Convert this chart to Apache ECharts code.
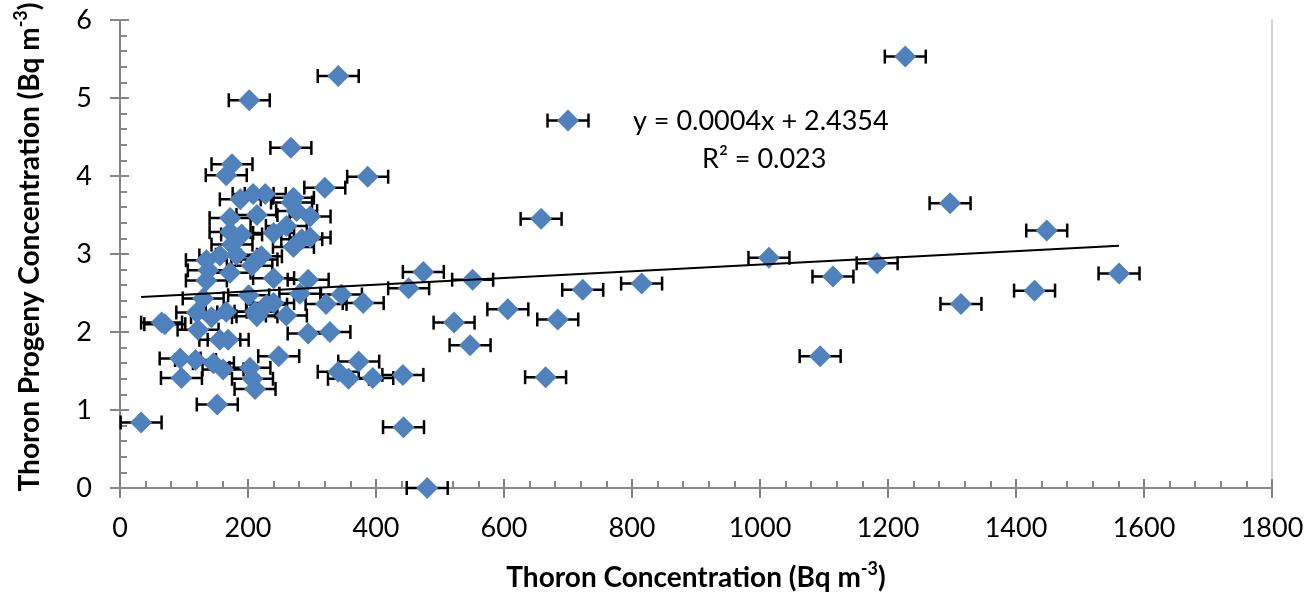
<!DOCTYPE html>
<html>
<head>
<meta charset="utf-8">
<script src="https://cdn.jsdelivr.net/npm/echarts@6/dist/echarts.min.js"></script>
<style>
  html, body { margin: 0; padding: 0; background: #ffffff; }
  #chart { width: 1309px; height: 597px; }
</style>
</head>
<body>
<div id="chart"></div>
<script>
// Thoron concentration (Bq m-3) for each sampled dwelling
const thoron = [
  33, 152, 211, 96, 94, 118, 146, 161, 203, 207,
  248, 341, 357, 373, 395, 442, 443, 480, 65, 70,
  122, 156, 169, 294, 328, 120, 143, 166, 211, 229,
  240, 214, 260, 201, 130, 281, 346, 322, 380, 451,
  474, 240, 294, 135, 138, 172, 206, 221, 214, 135,
  156, 182, 175, 172, 190, 240, 271, 284, 297, 260,
  172, 214, 297, 268, 276, 271, 188, 208, 227, 320,
  166, 175, 267, 387, 202, 341, 551, 522, 547, 606,
  684, 665, 723, 815, 658, 700, 1014, 1094, 1114, 1183,
  1227, 1297, 1314, 1429, 1448, 1561
];
// Thoron progeny concentration (Bq m-3) for the same dwellings
const progeny = [
  0.84, 1.07, 1.27, 1.41, 1.66, 1.64, 1.60, 1.52, 1.54, 1.40,
  1.69, 1.49, 1.40, 1.62, 1.41, 1.45, 0.78, 0.00, 2.12, 2.10,
  2.03, 1.90, 1.90, 1.98, 2.00, 2.25, 2.19, 2.26, 2.26, 2.35,
  2.37, 2.20, 2.21, 2.47, 2.43, 2.49, 2.48, 2.36, 2.37, 2.56,
  2.77, 2.69, 2.67, 2.66, 2.79, 2.76, 2.85, 2.97, 2.93, 2.92,
  2.98, 2.99, 3.12, 3.28, 3.25, 3.27, 3.09, 3.19, 3.21, 3.36,
  3.46, 3.50, 3.48, 3.66, 3.55, 3.72, 3.70, 3.77, 3.77, 3.85,
  4.01, 4.15, 4.36, 3.99, 4.97, 5.28, 2.67, 2.12, 1.83, 2.29,
  2.16, 1.42, 2.54, 2.62, 3.45, 4.71, 2.95, 1.69, 2.71, 2.88,
  5.53, 3.65, 2.36, 2.53, 3.30, 2.75
];
// Horizontal uncertainty on the thoron measurement (Bq m-3)
const thoronErr = 32;

// Linear trend fitted through the points
const trendSlope = 0.00043;
const trendIntercept = 2.4354;
const rSquared = 0.023;

// Axis ranges and tick spacing
const xRange = [0, 1800];
const xStep = 200;
const yRange = [0, 6];
const yStep = 1;

const FONT = 'Lato';
const AXIS_GREY = '#868686';
const MARKER_BLUE = '#4F81BD';

const points = thoron.map((x, i) => [x, progeny[i], thoronErr]);
const xMin = Math.min(...thoron);
const xMax = Math.max(...thoron);
const trend = [
  [xMin, trendIntercept + trendSlope * xMin],
  [xMax, trendIntercept + trendSlope * xMax]
];

const nameRich = {
  b: { fontFamily: FONT, fontSize: 28, fontWeight: 'bold', color: '#000', lineHeight: 32, verticalAlign: 'bottom' },
  s: { fontFamily: FONT, fontSize: 18, fontWeight: 'bold', color: '#000', lineHeight: 18, verticalAlign: 'top' }
};

const tickLabel = { fontFamily: FONT, fontSize: 27, color: '#000', formatter: v => String(v) };
const axisLine = { show: true, lineStyle: { color: AXIS_GREY, width: 2 } };

const chart = echarts.init(document.getElementById('chart'), null, { renderer: 'canvas' });

chart.setOption({
  animation: false,
  backgroundColor: '#ffffff',
  grid: { left: 120, right: 37, top: 18, bottom: 108, containLabel: false },
  xAxis: [
    {
      type: 'value', min: xRange[0], max: xRange[1], interval: xStep,
      axisLine: axisLine,
      axisTick: { show: true, length: 10, lineStyle: { color: AXIS_GREY, width: 2 } },
      splitLine: { show: false },
      axisLabel: Object.assign({ margin: 27 }, tickLabel),
      name: '{b|Thoron Concentration (Bq m}{s|-3}{b|)}',
      nameLocation: 'middle', nameGap: 72,
      nameTextStyle: { rich: nameRich }
    },
    {
      type: 'value', min: xRange[0], max: xRange[1], interval: xStep, position: 'bottom',
      axisLine: { show: false },
      axisTick: { show: true, inside: true, length: 9, lineStyle: { color: AXIS_GREY, width: 2 } },
      minorTick: { show: true, splitNumber: 5, length: 7, lineStyle: { color: AXIS_GREY, width: 2 } },
      splitLine: { show: false },
      axisLabel: { show: false }
    }
  ],
  yAxis: [
    {
      type: 'value', min: yRange[0], max: yRange[1], interval: yStep,
      axisLine: axisLine,
      axisTick: { show: true, length: 10, lineStyle: { color: AXIS_GREY, width: 2 } },
      splitLine: { show: false },
      axisLabel: Object.assign({ margin: 28 }, tickLabel),
      name: '{b|Thoron Progeny Concentration (Bq m}{s|-3}{b|)}',
      nameLocation: 'middle', nameGap: 76, nameRotate: 90,
      nameTextStyle: { rich: nameRich, padding: [0, 0, 0, 14] }
    },
    {
      type: 'value', min: yRange[0], max: yRange[1], interval: yStep, position: 'left',
      axisLine: { show: false },
      axisTick: { show: true, inside: true, length: 9, lineStyle: { color: AXIS_GREY, width: 2 } },
      minorTick: { show: true, splitNumber: 5, length: 7, lineStyle: { color: AXIS_GREY, width: 2 } },
      splitLine: { show: false },
      axisLabel: { show: false }
    },
    {
      // light frame line on the right edge of the plot area
      type: 'value', min: yRange[0], max: yRange[1], interval: yStep, position: 'right',
      axisLine: { show: true, lineStyle: { color: '#D0D0D0', width: 2 } },
      axisTick: { show: false },
      splitLine: { show: false },
      axisLabel: { show: false }
    }
  ],
  series: [
    {
      // horizontal error bars with end caps
      type: 'custom',
      xAxisIndex: 0, yAxisIndex: 0,
      z: 2,
      data: points,
      renderItem: function (params, api) {
        const x = api.value(0), y = api.value(1), e = api.value(2);
        const a = api.coord([x - e, y]);
        const b = api.coord([x + e, y]);
        const cap = 7;
        const style = { stroke: '#000', lineWidth: 2.5 };
        return {
          type: 'group',
          children: [
            { type: 'line', shape: { x1: a[0], y1: a[1], x2: b[0], y2: b[1] }, style: style },
            { type: 'line', shape: { x1: a[0], y1: a[1] - cap, x2: a[0], y2: a[1] + cap }, style: style },
            { type: 'line', shape: { x1: b[0], y1: b[1] - cap, x2: b[0], y2: b[1] + cap }, style: style }
          ]
        };
      }
    },
    {
      type: 'scatter',
      xAxisIndex: 0, yAxisIndex: 0,
      z: 3,
      symbol: 'diamond',
      symbolSize: 22,
      itemStyle: { color: MARKER_BLUE, opacity: 1 },
      data: points.map(p => [p[0], p[1]])
    },
    {
      type: 'line',
      xAxisIndex: 0, yAxisIndex: 0,
      z: 4,
      data: trend,
      showSymbol: false,
      symbol: 'none',
      lineStyle: { color: '#000', width: 2 }
    }
  ],
  graphic: [
    {
      type: 'text', left: 633, top: 108, z: 10,
      style: {
        text: 'y = ' + trendSlope.toFixed(4) + 'x + ' + trendIntercept.toFixed(4),
        font: '27px ' + FONT, fill: '#000'
      }
    },
    {
      type: 'text', left: 702, top: 146, z: 10,
      style: {
        text: 'R\u00b2 = ' + rSquared.toFixed(3),
        font: '27px ' + FONT, fill: '#000'
      }
    }
  ]
});
</script>
</body>
</html>
